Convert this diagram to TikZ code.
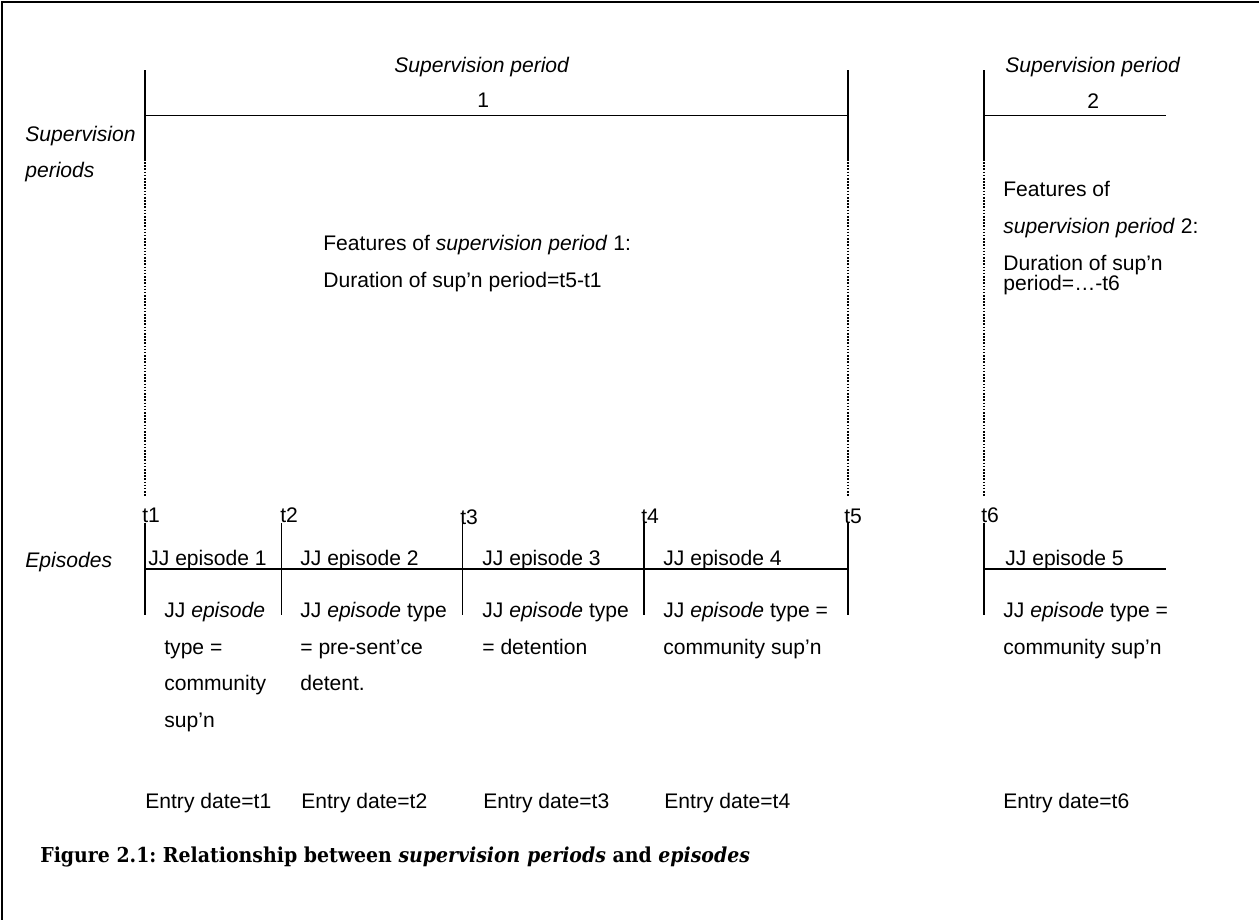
\documentclass[tikz,border=0pt]{standalone}
\usepackage{fontspec}
\setmainfont{Liberation Sans}
\newfontfamily\capfont[FakeStretch=0.92]{DejaVu Serif}
\frenchspacing

\tikzset{
  frame/.style={line width=1.2pt},
  tl/.style={line width=1.1pt},
  guide/.style={line width=1pt, dash pattern=on 0.9pt off 0.9pt},
  lbl/.style={inner sep=0pt, anchor=base west, font=\fontsize{12}{21}\selectfont},
  ilbl/.style={inner sep=0pt, anchor=base west, font=\fontsize{12}{21}\selectfont\itshape},
  txt/.style={inner sep=0pt, anchor=north west, align=left, font=\fontsize{12}{21}\selectfont},
}

\begin{document}
\begin{tikzpicture}[x=0.02cm, y=-0.02cm]
\useasboundingbox (0,0) rectangle (1259,920);
\draw[frame] (2,920) -- (2,2) -- (1259,2);

% supervision periods (top)
\coordinate (sa1) at (145,70);   \coordinate (sb1) at (145,159);   \coordinate (sc1) at (145,497);
\coordinate (sa2) at (848,70);   \coordinate (sb2) at (848,159);   \coordinate (sc2) at (848,497);
\coordinate (sa3) at (984,70);   \coordinate (sb3) at (984,159);   \coordinate (sc3) at (984,497);
\coordinate (h1) at (145,115.5); \coordinate (h2) at (848,115.5);
\coordinate (h3) at (984,115.5); \coordinate (h4) at (1166,115.5);

\draw[tl] (sa1) -- (sb1);
\draw[tl] (sa2) -- (sb2);
\draw[tl] (sa3) -- (sb3);
\draw[guide] (sb1) -- (sc1);
\draw[guide] (sb2) -- (sc2);
\draw[guide] (sb3) -- (sc3);
\draw[tl] (h1) -- (h2);
\draw[tl] (h3) -- (h4);

\node[ilbl] (sp1) at (394,72) {Supervision period};
\node[lbl] (n1) at (477,107) {1};
\node[ilbl] (sp2) at (1005,72) {Supervision period};
\node[lbl] (n2) at (1087,108) {2};
\node[ilbl] (side1) at (25,141) {Supervision};
\node[ilbl] (side2) at (25,177) {periods};

\node[txt] (feat1) at (323,235) {Features of \textit{supervision period} 1:\\Duration of sup’n period=t5-t1};
\node[txt] (feat2) at (1003,181) {Features of\\\textit{supervision period} 2:\\Duration of sup’n\\[-9.7pt]period=…-t6};

% episodes (bottom)
\coordinate (t1) at (145,569);
\coordinate (t2) at (281.5,569);
\coordinate (t3) at (462.5,569);
\coordinate (t4) at (644,569);
\coordinate (t5) at (848,569);
\coordinate (t6) at (984,569);
\coordinate (e6) at (1166,569);

\draw[tl] (t1) -- (t5);
\draw[tl] (t6) -- (e6);
\draw[tl] (t1) ++(0,-46) -- ++(0,92);
\draw[tl] (t2) ++(0,-46) -- ++(0,92);
\draw[tl] (t3) ++(0,-46) -- ++(0,92);
\draw[tl] (t4) ++(0,-47) -- ++(0,93);
\draw[tl] (t5) ++(0,-47) -- ++(0,93);
\draw[tl] (t6) ++(0,-46) -- ++(0,92);

\node[lbl] (lt1) at (142,522) {t1};
\node[lbl] (lt2) at (280,522) {t2};
\node[lbl] (lt3) at (460,524) {t3};
\node[lbl] (lt4) at (641,523) {t4};
\node[lbl] (lt5) at (844,523) {t5};
\node[lbl] (lt6) at (981,522) {t6};

\node[ilbl] (epis) at (25,567) {Episodes};

\node[lbl] (ep1) at (148,565) {JJ episode 1};
\node[lbl] (ep2) at (300,565) {JJ episode 2};
\node[lbl] (ep3) at (482,565) {JJ episode 3};
\node[lbl] (ep4) at (663,565) {JJ episode 4};
\node[lbl] (ep5) at (1005,565) {JJ episode 5};

\node[txt] (ty1) at (164,601.5) {JJ \textit{episode}\\type =\\community\\sup’n};
\node[txt] (ty2) at (300,601.5) {JJ \textit{episode} type\\= pre-sent’ce\\detent.};
\node[txt] (ty3) at (482,601.5) {JJ \textit{episode} type\\= detention};
\node[txt] (ty4) at (663,601.5) {JJ \textit{episode} type =\\community sup’n};
\node[txt] (ty5) at (1003,601.5) {JJ \textit{episode} type =\\community sup’n};

\node[lbl] (en1) at (145,808) {Entry date=t1};
\node[lbl] (en2) at (301,808) {Entry date=t2};
\node[lbl] (en3) at (483,808) {Entry date=t3};
\node[lbl] (en4) at (664,808) {Entry date=t4};
\node[lbl] (en6) at (1003,808) {Entry date=t6};

\node[inner sep=0pt, anchor=base west, font=\capfont\fontsize{11.7}{15}\selectfont\bfseries] (cap) at (40,862)
  {Figure 2.1: Relationship between \textit{supervision periods} and \textit{episodes}};
\end{tikzpicture}
\end{document}
